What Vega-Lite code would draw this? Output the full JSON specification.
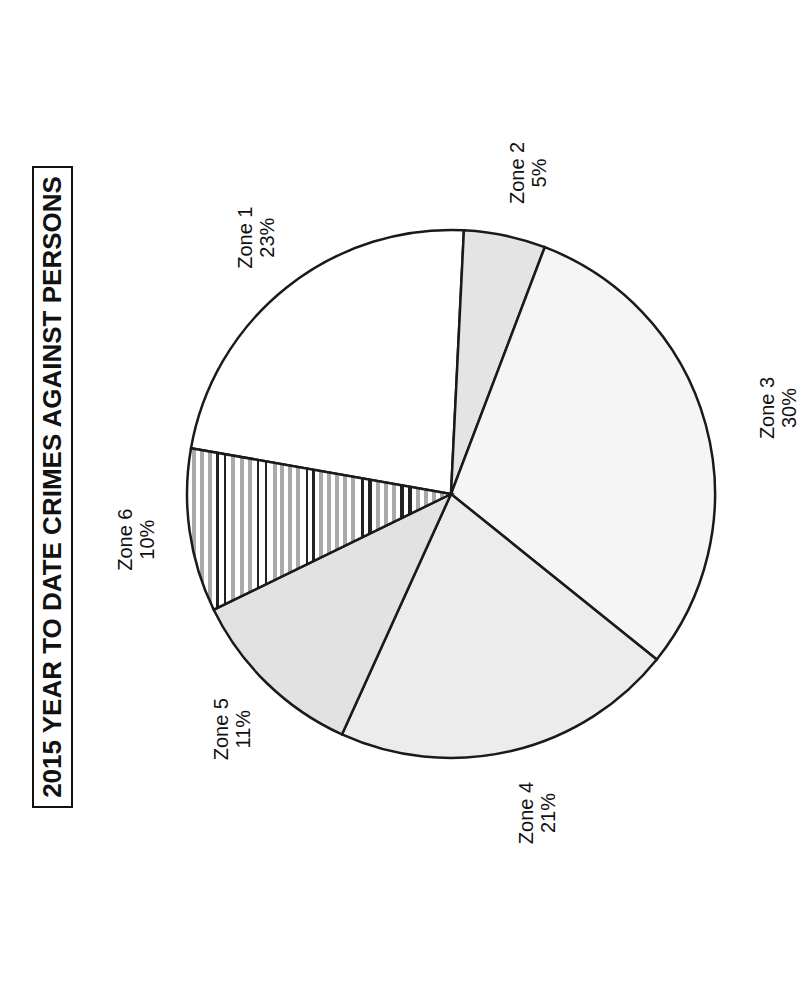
{
  "$schema": "https://vega.github.io/schema/vega-lite/v6.json",
  "autosize": {"type": "pad"},
  "padding": {"left": 32, "top": 141, "right": 0, "bottom": 0},
  "background": "white",
  "bounds": "flush",
  "spacing": 20,
  "config": {"font": "Liberation Sans"},
  "hconcat": [
    {
      "width": 39,
      "height": 640,
      "view": {"stroke": "#111111", "strokeWidth": 2},
      "data": {"values": [{"title": "2015 YEAR TO DATE CRIMES AGAINST PERSONS"}]},
      "mark": {"type": "text", "angle": 270, "font": "Liberation Sans", "fontWeight": "bold", "fontSize": 26, "align": "center", "baseline": "middle", "color": "#111111"},
      "encoding": {"text": {"field": "title", "type": "nominal"}}
    },
    {
      "width": 718,
      "height": 654,
      "view": {"stroke": null},
      "data": {
        "values": [
          {"zone": "Zone 1", "pct": 23, "label": "Zone 1\n23%"},
          {"zone": "Zone 2", "pct": 5, "label": "Zone 2\n5%"},
          {"zone": "Zone 3", "pct": 30, "label": "Zone 3\n30%"},
          {"zone": "Zone 4", "pct": 21, "label": "Zone 4\n21%"},
          {"zone": "Zone 5", "pct": 11, "label": "Zone 5\n11%"},
          {"zone": "Zone 6", "pct": 10, "label": "Zone 6\n10%"}
        ]
      },
      "encoding": {
        "theta": {"field": "pct", "type": "quantitative", "stack": true, "scale": {"range": [4.8869, 11.1701]}},
        "order": {"field": "zone", "type": "ordinal", "sort": "ascending"}
      },
      "layer": [
        {
          "mark": {"type": "arc", "radius": 264, "stroke": "#1a1a1a", "strokeWidth": 2.5},
          "encoding": {
            "fill": {
              "condition": {
                "test": "datum.zone === 'Zone 6'",
                "value": {
                  "gradient": "linear", "x1": 0, "y1": 0, "x2": 1, "y2": 0,
                  "stops": [
                    {"offset": 0, "color": "white"},
                    {"offset": 0.0189, "color": "white"}, {"offset": 0.0189, "color": "#aaaaaa"}, {"offset": 0.0341, "color": "#aaaaaa"}, {"offset": 0.0341, "color": "white"},
                    {"offset": 0.0492, "color": "white"}, {"offset": 0.0492, "color": "#aaaaaa"}, {"offset": 0.0644, "color": "#aaaaaa"}, {"offset": 0.0644, "color": "white"},
                    {"offset": 0.0795, "color": "white"}, {"offset": 0.0795, "color": "#aaaaaa"}, {"offset": 0.0947, "color": "#aaaaaa"}, {"offset": 0.0947, "color": "white"},
                    {"offset": 0.1117, "color": "white"}, {"offset": 0.1117, "color": "#222222"}, {"offset": 0.1231, "color": "#222222"}, {"offset": 0.1231, "color": "white"},
                    {"offset": 0.1383, "color": "white"}, {"offset": 0.1383, "color": "#222222"}, {"offset": 0.1496, "color": "#222222"}, {"offset": 0.1496, "color": "white"},
                    {"offset": 0.1667, "color": "white"}, {"offset": 0.1667, "color": "#aaaaaa"}, {"offset": 0.1818, "color": "#aaaaaa"}, {"offset": 0.1818, "color": "white"},
                    {"offset": 0.2008, "color": "white"}, {"offset": 0.2008, "color": "#aaaaaa"}, {"offset": 0.2159, "color": "#aaaaaa"}, {"offset": 0.2159, "color": "white"},
                    {"offset": 0.2311, "color": "white"}, {"offset": 0.2311, "color": "#aaaaaa"}, {"offset": 0.2462, "color": "#aaaaaa"}, {"offset": 0.2462, "color": "white"},
                    {"offset": 0.2633, "color": "white"}, {"offset": 0.2633, "color": "#222222"}, {"offset": 0.2746, "color": "#222222"}, {"offset": 0.2746, "color": "white"},
                    {"offset": 0.2936, "color": "white"}, {"offset": 0.2936, "color": "#222222"}, {"offset": 0.3049, "color": "#222222"}, {"offset": 0.3049, "color": "white"},
                    {"offset": 0.3258, "color": "white"}, {"offset": 0.3258, "color": "#aaaaaa"}, {"offset": 0.3409, "color": "#aaaaaa"}, {"offset": 0.3409, "color": "white"},
                    {"offset": 0.3523, "color": "white"}, {"offset": 0.3523, "color": "#aaaaaa"}, {"offset": 0.3674, "color": "#aaaaaa"}, {"offset": 0.3674, "color": "white"},
                    {"offset": 0.3826, "color": "white"}, {"offset": 0.3826, "color": "#aaaaaa"}, {"offset": 0.3977, "color": "#aaaaaa"}, {"offset": 0.3977, "color": "white"},
                    {"offset": 0.4129, "color": "white"}, {"offset": 0.4129, "color": "#aaaaaa"}, {"offset": 0.4280, "color": "#aaaaaa"}, {"offset": 0.4280, "color": "white"},
                    {"offset": 0.4489, "color": "white"}, {"offset": 0.4489, "color": "#222222"}, {"offset": 0.4602, "color": "#222222"}, {"offset": 0.4602, "color": "white"},
                    {"offset": 0.4716, "color": "white"}, {"offset": 0.4716, "color": "#222222"}, {"offset": 0.4830, "color": "#222222"}, {"offset": 0.4830, "color": "white"},
                    {"offset": 0.5000, "color": "white"}, {"offset": 0.5000, "color": "#aaaaaa"}, {"offset": 0.5152, "color": "#aaaaaa"}, {"offset": 0.5152, "color": "white"},
                    {"offset": 0.5303, "color": "white"}, {"offset": 0.5303, "color": "#aaaaaa"}, {"offset": 0.5455, "color": "#aaaaaa"}, {"offset": 0.5455, "color": "white"},
                    {"offset": 0.5606, "color": "white"}, {"offset": 0.5606, "color": "#aaaaaa"}, {"offset": 0.5758, "color": "#aaaaaa"}, {"offset": 0.5758, "color": "white"},
                    {"offset": 0.5909, "color": "white"}, {"offset": 0.5909, "color": "#aaaaaa"}, {"offset": 0.6061, "color": "#aaaaaa"}, {"offset": 0.6061, "color": "white"},
                    {"offset": 0.6212, "color": "white"}, {"offset": 0.6212, "color": "#aaaaaa"}, {"offset": 0.6364, "color": "#aaaaaa"}, {"offset": 0.6364, "color": "white"},
                    {"offset": 0.6572, "color": "white"}, {"offset": 0.6572, "color": "#222222"}, {"offset": 0.6686, "color": "#222222"}, {"offset": 0.6686, "color": "white"},
                    {"offset": 0.6875, "color": "white"}, {"offset": 0.6875, "color": "#222222"}, {"offset": 0.6989, "color": "#222222"}, {"offset": 0.6989, "color": "white"},
                    {"offset": 0.7159, "color": "white"}, {"offset": 0.7159, "color": "#aaaaaa"}, {"offset": 0.7311, "color": "#aaaaaa"}, {"offset": 0.7311, "color": "white"},
                    {"offset": 0.7462, "color": "white"}, {"offset": 0.7462, "color": "#aaaaaa"}, {"offset": 0.7614, "color": "#aaaaaa"}, {"offset": 0.7614, "color": "white"},
                    {"offset": 0.7765, "color": "white"}, {"offset": 0.7765, "color": "#aaaaaa"}, {"offset": 0.7917, "color": "#aaaaaa"}, {"offset": 0.7917, "color": "white"},
                    {"offset": 0.8087, "color": "white"}, {"offset": 0.8087, "color": "#222222"}, {"offset": 0.8201, "color": "#222222"}, {"offset": 0.8201, "color": "white"},
                    {"offset": 0.8390, "color": "white"}, {"offset": 0.8390, "color": "#222222"}, {"offset": 0.8504, "color": "#222222"}, {"offset": 0.8504, "color": "white"},
                    {"offset": 0.8674, "color": "white"}, {"offset": 0.8674, "color": "#aaaaaa"}, {"offset": 0.8826, "color": "#aaaaaa"}, {"offset": 0.8826, "color": "white"},
                    {"offset": 0.8977, "color": "white"}, {"offset": 0.8977, "color": "#aaaaaa"}, {"offset": 0.9129, "color": "#aaaaaa"}, {"offset": 0.9129, "color": "white"},
                    {"offset": 0.9280, "color": "white"}, {"offset": 0.9280, "color": "#aaaaaa"}, {"offset": 0.9432, "color": "#aaaaaa"}, {"offset": 0.9432, "color": "white"},
                    {"offset": 0.9583, "color": "white"}, {"offset": 0.9583, "color": "#aaaaaa"}, {"offset": 0.9735, "color": "#aaaaaa"}, {"offset": 0.9735, "color": "white"},
                    {"offset": 1, "color": "white"}
                  ]
                }
              },
              "field": "zone",
              "type": "nominal",
              "scale": {
                "domain": ["Zone 1", "Zone 2", "Zone 3", "Zone 4", "Zone 5", "Zone 6"],
                "range": ["#ffffff", "#e4e4e4", "#f5f5f5", "#ececec", "#e2e2e2", "#ffffff"]
              },
              "legend": null
            }
          }
        },
        {
          "mark": {"type": "text", "radius": 328, "angle": 270, "font": "Liberation Sans", "fontSize": 20, "lineHeight": 22, "lineBreak": "\n", "align": "center", "baseline": "middle", "color": "#111111"},
          "encoding": {"text": {"field": "label", "type": "nominal"}}
        }
      ]
    }
  ]
}
